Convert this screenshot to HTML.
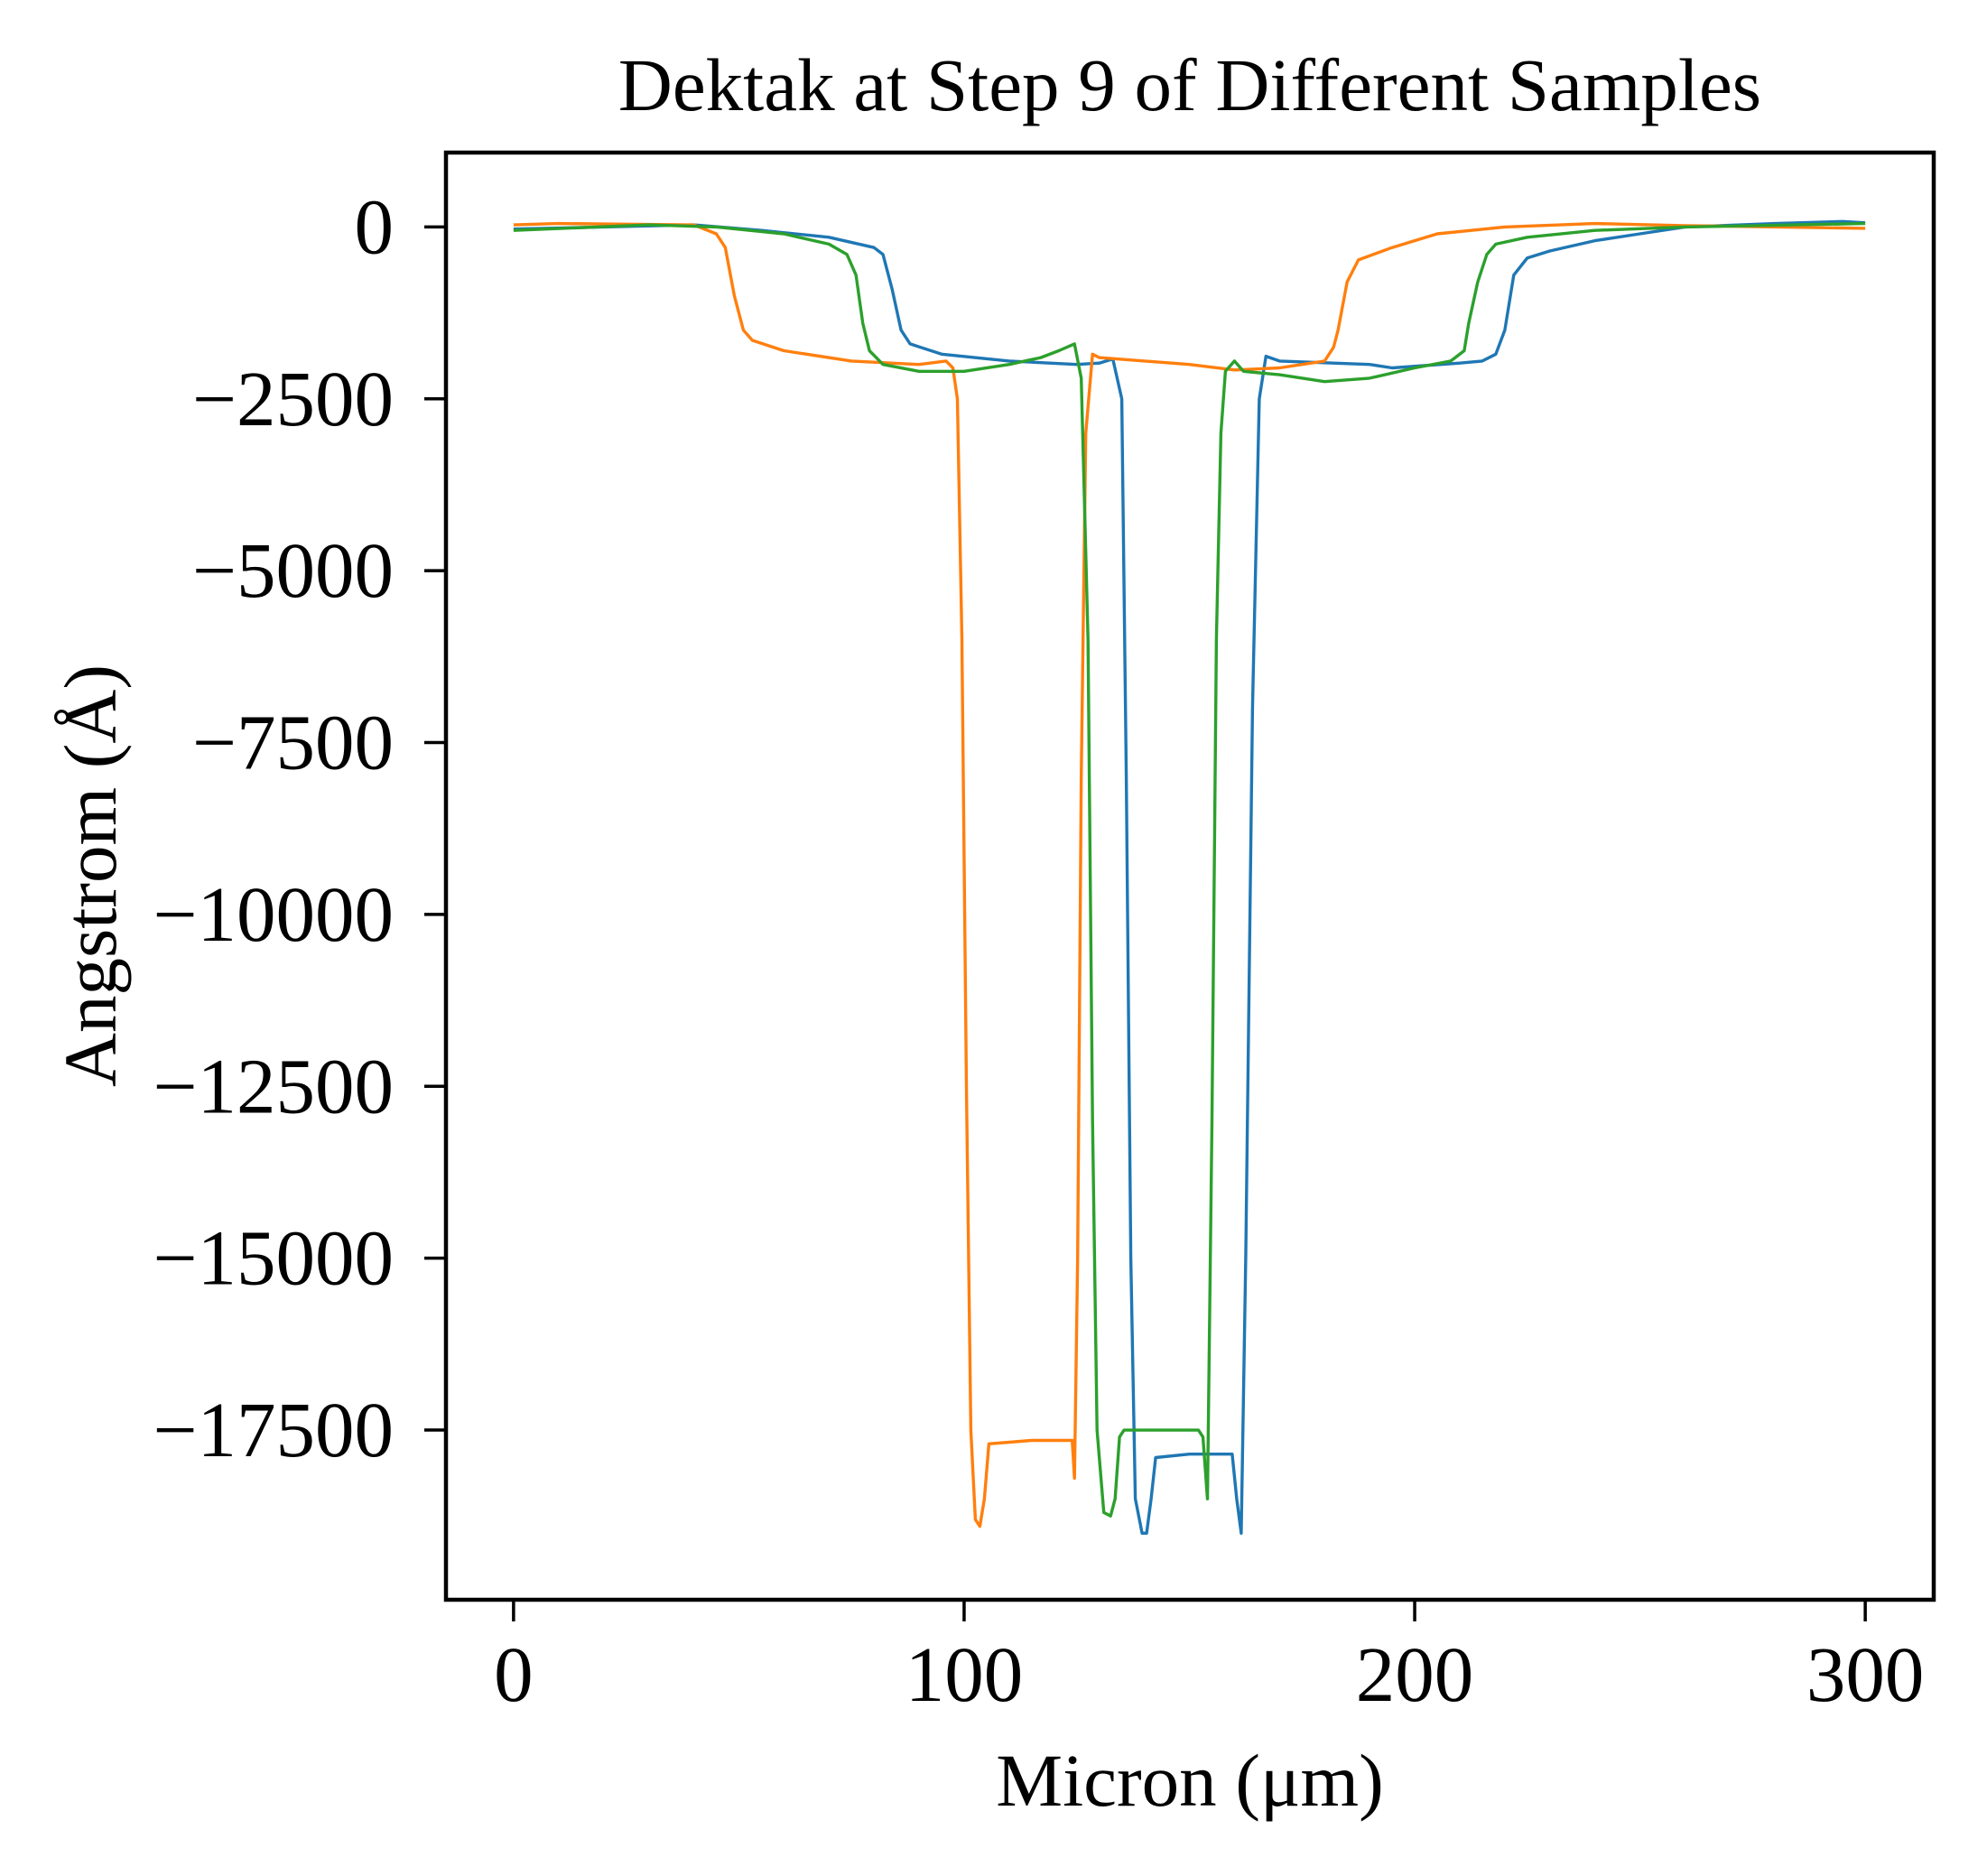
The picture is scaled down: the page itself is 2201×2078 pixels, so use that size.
<!DOCTYPE html>
<html><head><meta charset="utf-8"><style>
html,body{margin:0;padding:0;background:#fff;}
svg{display:block;}
text{font-family:"Liberation Serif","DejaVu Serif",serif;fill:#000;}
</style></head><body>
<svg id="chart" width="2201" height="2078" viewBox="0 0 2201 2078" xmlns="http://www.w3.org/2000/svg">
<rect width="2201" height="2078" fill="#fff"/>
<g id="plot"></g>
<text x="1318" y="122" font-size="83" text-anchor="middle">Dektak at Step 9 of Different Samples</text>
<text x="1318" y="2000" font-size="83" text-anchor="middle">Micron (μm)</text>
<text transform="translate(128,970) rotate(-90)" font-size="83" text-anchor="middle">Angstrom (Å)</text>
</svg>
<script>
const xTicks = [0, 100, 200, 300];
const yTicks = [0, -2500, -5000, -7500, -10000, -12500, -15000, -17500];
const yTickLabels = ["0", "\u22122500", "\u22125000", "\u22127500", "\u221210000", "\u221212500", "\u221215000", "\u221217500"];
const blueX = [0,20,40,55,70,80,82,84,86,88,95,110,125,130,133,135,136,137,138,139.5,140.5,141.5,142.5,150,159.5,160.5,161.5,162.5,164,165.5,167,170,190,195,210,215,218,220,222,225,230,240,250,260,280,295,300];
const blueY = [-30,0,30,-50,-150,-300,-400,-900,-1500,-1700,-1850,-1950,-2000,-1980,-1920,-2500,-8000,-15000,-18500,-19000,-19000,-18500,-17900,-17850,-17850,-18500,-19000,-15000,-7000,-2500,-1880,-1950,-2000,-2050,-1980,-1950,-1850,-1500,-700,-450,-350,-200,-100,0,50,80,60];
const orangeX = [0,10,40,45,47,49,51,53,60,75,90,96,97.5,98.5,99.5,100.5,101.5,102.5,103.5,104.5,105.5,115,124,124.5,125.2,126,127,128.5,130,150,160,170,180,182,183,185,187.5,195,205,220,240,260,300];
const orangeY = [30,50,30,-100,-300,-1000,-1500,-1650,-1800,-1950,-2000,-1950,-2050,-2500,-6000,-12500,-17500,-18800,-18900,-18500,-17700,-17650,-17650,-18200,-15000,-8000,-3000,-1850,-1900,-2000,-2080,-2050,-1950,-1750,-1500,-800,-480,-300,-100,0,50,20,-20];
const greenX = [0,30,45,60,70,74,76,77.5,79,82,90,100,110,117,121,124.5,126,127.5,128.5,129.5,131,132.5,133.5,134.5,135.5,152,153,154,155,156,157,158,160,162,170,180,190,200,208,211,212,214,216,218,225,240,260,300];
const greenY = [-50,30,0,-100,-250,-400,-700,-1400,-1800,-2000,-2100,-2100,-2000,-1900,-1800,-1700,-2200,-6000,-13000,-17500,-18700,-18750,-18500,-17600,-17500,-17500,-17600,-18500,-13000,-6000,-3000,-2100,-1950,-2100,-2150,-2250,-2200,-2050,-1950,-1800,-1400,-800,-400,-250,-150,-50,0,50];

const L=494,R=2142,T=169,B=1772;
const xMin=-15,xMax=315.2,yMax=1082,yMin=-19968;
function xs(v){return L+(v-xMin)/(xMax-xMin)*(R-L);}
function ys(v){return T+(yMax-v)/(yMax-yMin)*(B-T);}
const NS="http://www.w3.org/2000/svg";
const plot=document.getElementById('plot');
function mk(tag,attrs){const e=document.createElementNS(NS,tag);for(const k in attrs)e.setAttribute(k,attrs[k]);return e;}

const clip=mk('clipPath',{id:'clip'});clip.appendChild(mk('rect',{x:L,y:T,width:R-L,height:B-T}));plot.appendChild(clip);

function series(xa,ya,color,name){
  const p=mk('polyline',{points:xa.map((x,i)=>xs(x).toFixed(1)+','+ys(ya[i]).toFixed(1)).join(' '),fill:'none',stroke:color,'stroke-width':3.4,'stroke-linejoin':'round','clip-path':'url(#clip)'});
  
  
  plot.appendChild(p);
}
series(blueX,blueY,'#1f77b4','blue-series');
series(orangeX,orangeY,'#ff7f0e','orange-series');
series(greenX,greenY,'#2ca02c','green-series');

xTicks.forEach(v=>{
  const t=mk('line',{x1:xs(v),x2:xs(v),y1:B,y2:B+24,stroke:'#000','stroke-width':3.5});
  
  
  plot.appendChild(t);
  const l=mk('text',{x:xs(v),y:B+112,'font-size':87,'text-anchor':'middle'});l.textContent=String(v);
  
  
  plot.appendChild(l);
});
yTicks.forEach((v,i)=>{
  const t=mk('line',{x1:L-24,x2:L,y1:ys(v),y2:ys(v),stroke:'#000','stroke-width':3.5});
  
  
  plot.appendChild(t);
  const l=mk('text',{x:L-58,y:ys(v)+29,'font-size':87,'text-anchor':'end'});l.textContent=yTickLabels[i];
  
  
  plot.appendChild(l);
});
const frame=mk('rect',{x:L,y:T,width:R-L,height:B-T,fill:'none',stroke:'#000','stroke-width':4.5});


plot.appendChild(frame);
</script>
</body></html>
